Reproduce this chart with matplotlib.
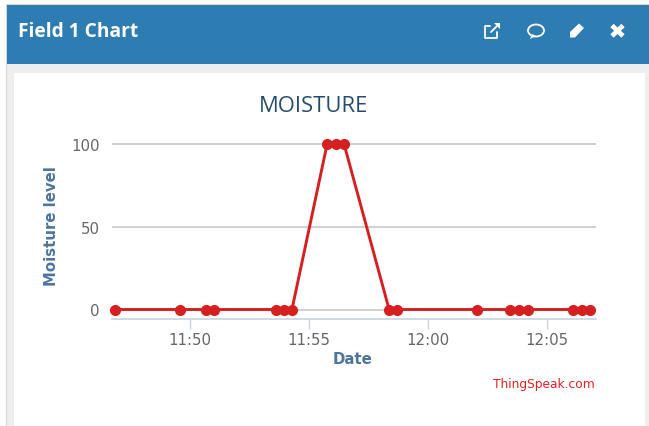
import matplotlib
matplotlib.use("Agg")
import matplotlib.pyplot as plt
import matplotlib.dates as mdates
from matplotlib.patches import Rectangle, Ellipse, Polygon
from datetime import datetime

times = ["11:46:51","11:49:35","11:50:40","11:51:01","11:53:37","11:53:57","11:54:17",
         "11:55:46","11:56:08","11:56:28","11:58:22","11:58:42","12:02:04","12:03:27",
         "12:03:49","12:04:12","12:06:05","12:06:28","12:06:48"]
moisture = [0,0,0,0,0,0,0,100,100,100,0,0,0,0,0,0,0,0,0]
y_ticks = [0, 50, 100]
x_tick_labels = ["11:50","11:55","12:00","12:05"]
title = "MOISTURE"
panel_title = "Field 1 Chart"
xlabel = "Date"
ylabel = "Moisture level"
credit = "ThingSpeak.com"

W, H = 649, 427
def T(s):
    if s.count(":") == 1:
        s = s + ":00"
    return mdates.date2num(datetime.strptime("2020-01-01 " + s, "%Y-%m-%d %H:%M:%S"))

fig = plt.figure(figsize=(W/100, H/100), dpi=100, facecolor="#f1f1f1")
bg = fig.add_axes([0, 0, 1, 1])
bg.set_xlim(0, W); bg.set_ylim(H, 0); bg.axis("off")
bg.add_patch(Rectangle((0, 0), W, 5, fc="#ffffff", ec="none"))
bg.add_patch(Rectangle((0, 0), 6, H, fc="#ffffff", ec="none"))
bg.add_patch(Rectangle((6, 5), W, H, fc="#eeeeee", ec="#d8d8d8", lw=0.8))
bg.add_patch(Rectangle((6.5, 5.5), W, 59, fc="#2e7db2", ec="none"))
bg.add_patch(Rectangle((13.5, 73.5), 631, H, fc="#ffffff", ec="none"))
bg.text(18, 32, panel_title, color="white", fontsize=13.8, fontweight="bold",
        family="Open Sans", va="center", ha="left")

# header icons
ic = dict(color="white", lw=1.3, solid_capstyle="round")
bg.plot([490, 485, 485, 497, 497], [27, 27, 39, 39, 33], **ic)
bg.plot([491, 498], [33, 26], **ic)
bg.add_patch(Polygon([[494, 24], [500, 24], [500, 30]], fc="white", ec="none"))
bg.add_patch(Ellipse((536, 31.5), 16, 12, fc="none", ec="white", lw=1.3))
bg.add_patch(Polygon([[530, 40], [532, 35], [536, 37]], fc="white", ec="none"))
bg.add_patch(Polygon([[570, 38.5], [570, 33], [579, 24.5], [584, 29], [575, 38.5]], fc="white", ec="none"))
xm = dict(color="white", lw=3.4, solid_capstyle="butt")
bg.plot([612, 623], [26.5, 37], **xm)
bg.plot([612, 623], [37, 26.5], **xm)

# chart: left 112..595 px, y 100 at 144.5, 0 at 310.5, axis line at 319.5
ax = fig.add_axes([112/W, 1-319.5/H, (596-112)/W, (319.5-130)/H])
ax.patch.set_alpha(0)
xs = [T(t) for t in times]
per_px = (T("12:05") - T("11:50")) / (547 - 190)
ax.set_xlim(T("11:50") + (112-190)*per_px, T("11:50") + (596-190)*per_px)
per_y = 100 / (310.5-144.5)
ax.set_ylim(-(319.5-310.5)*per_y, 100 + (144.5-130)*per_y)
for s in ["top", "left", "right"]:
    ax.spines[s].set_visible(False)
ax.spines["bottom"].set_color("#c6d3e3")
ax.spines["bottom"].set_linewidth(1.2)
ax.set_yticks(y_ticks)
ax.set_yticklabels([str(v) for v in y_ticks], family="DejaVu Sans", fontsize=10.8, color="#666666")
ax.set_xticks([T(s) for s in x_tick_labels])
ax.set_xticklabels(x_tick_labels, family="DejaVu Sans", fontsize=10.8, color="#666666")
ax.tick_params(axis="y", length=0, pad=9)
ax.tick_params(axis="x", length=7, width=1, color="#c6d3e3", pad=3)
ax.grid(axis="y", color="#c8c8c8", lw=1.2)
ax.set_axisbelow(True)
ax.plot(xs, moisture, color="#d62020", lw=2.1, marker="o", ms=7, mec="#d62020", clip_on=False, zorder=3)

fig.text(314/W, 1-106.5/H, title, color="#274b6d", fontsize=15.8, family="Open Sans", ha="center", va="center")
fig.text(353/W, 1-359.5/H, xlabel, color="#4d759e", fontsize=10.8, fontweight="bold",
         family="DejaVu Sans", ha="center", va="center")
fig.text(51/W, 1-226.5/H, ylabel, color="#4d759e", fontsize=10.7, fontweight="bold", rotation=90,
         family="DejaVu Sans", ha="center", va="center")
fig.text(595/W, 1-384.5/H, credit, color="#e02020", fontsize=8.8, family="DejaVu Sans", ha="right", va="center")

fig.savefig("out.png", dpi=100, facecolor=fig.get_facecolor())
